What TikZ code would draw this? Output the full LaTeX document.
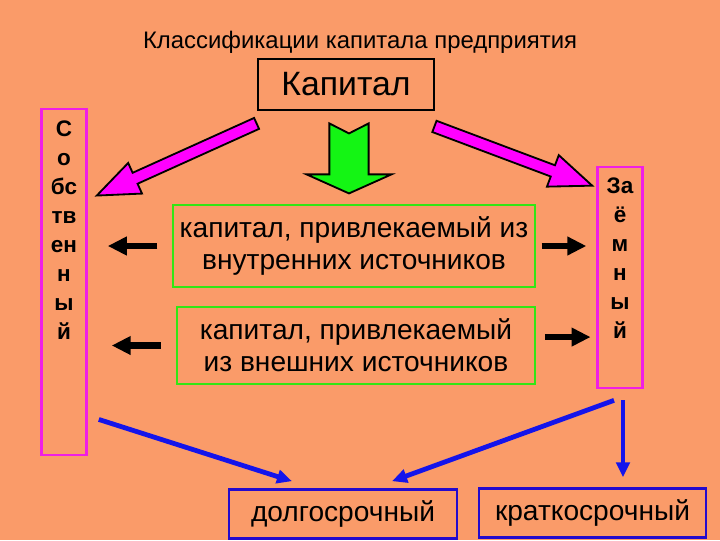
\documentclass[tikz,border=0pt]{standalone}
\usepackage{fontspec}
\setmainfont{Liberation Sans}
\usepackage{xcolor}
\usepackage{tikz}
\usetikzlibrary{arrows.meta, positioning, calc}
\definecolor{slidebg}{RGB}{250, 155, 105}
\definecolor{sidemag}{RGB}{240, 30, 230}
\definecolor{fatmag}{RGB}{255, 0, 255}
\definecolor{fatgreen}{RGB}{20, 245, 20}
\definecolor{srcgreen}{RGB}{50, 230, 20}
\definecolor{termblue}{RGB}{35, 10, 205}
\definecolor{arrowblue}{RGB}{20, 20, 235}

% fat outlined arrow: tail, tip, shaft half width, head half width, head length, notch, fill
\newcommand{\fatarrow}[7]{%
  \coordinate (fah) at ($(#2)!#5!(#1)$);
  \coordinate (fan) at ($(#1)!#6!(#2)$);
  \draw[fill=#7, line width=1.3pt, line join=miter]
    ($(#1)!#3!90:(#2)$) -- ($(fah)!#3!-90:(#1)$) -- ($(fah)!#4!-90:(#1)$) -- (#2)
    -- ($(fah)!#4!90:(#1)$) -- ($(fah)!#3!90:(#1)$) -- ($(#1)!#3!-90:(#2)$) -- (fan) -- cycle;
}

\begin{document}
\begin{tikzpicture}[
    x=0.025cm, y=-0.025cm,
    kapbox/.style={rectangle, draw=black, line width=2pt, minimum width=4.4cm, minimum height=1.275cm, font=\fontsize{24}{28}\selectfont},
    sidebox/.style={rectangle, draw=sidemag, line width=2pt, minimum width=1.12cm},
    vtext/.style={align=center, inner sep=0pt, font=\fontsize{16}{20.6}\selectfont\bfseries},
    srcbox/.style={rectangle, draw=srcgreen, line width=2pt, align=center, font=\fontsize{20}{22.8}\selectfont},
    termbox/.style={rectangle, draw=termblue, line width=2pt, minimum height=1.22cm, font=\fontsize{20}{24}\selectfont},
    blkarrow/.style={-{Triangle[length=13.5pt, width=12.6pt]}, line width=4.3pt, draw=black},
    bluearrow/.style={-{Triangle[length=10.7pt, width=9.5pt]}, line width=3.4pt, draw=arrowblue}
]
    \useasboundingbox (0,0) rectangle (720,540);
    \fill[slidebg] (0,0) rectangle (720,540);

    % Nodes
    \node[font=\fontsize{17}{20}\selectfont] (title) at (360,42) {Классификации капитала предприятия};
    \node[kapbox] (kap) at (346,84.5) {Капитал};

    \node[sidebox, minimum height=8.65cm] (own) at (64,282) {};
    \node[vtext, below=0.32cm of own.north] (ownlbl) {С\\о\\бс\\тв\\ен\\н\\ы\\й};
    \node[sidebox, minimum height=5.52cm] (zm) at (620,277.5) {};
    \node[vtext, below=0.29cm of zm.north] (zmlbl) {За\\ё\\м\\н\\ы\\й};

    \node[srcbox, minimum width=9.05cm, minimum height=2.05cm] (inner) at (354,246) {капитал, привлекаемый из\\внутренних источников};
    \node[srcbox, minimum width=8.95cm, minimum height=1.925cm] (outer) at (356,345.5) {капитал, привлекаемый\\из внешних источников};

    \node[termbox, minimum width=5.7cm] (lg) at (343,514) {долгосрочный};
    \node[termbox, minimum width=5.675cm] (st) at (592.5,513) {краткосрочный};

    \coordinate (mlt) at ($(kap.south west)+(0,12)$);
    \coordinate (mlp) at ($(own.north east)+(9,88)$);
    \coordinate (mrt) at ($(kap.south east)+(-1,15)$);
    \coordinate (mrp) at ($(zm.north west)+(-4,20)$);
    \coordinate (gt) at ($(kap.south)+(3,12)$);
    \coordinate (gp) at ($(kap.south)+(3,82)$);
    \coordinate (b1) at ($(own.south east)+(11,-37)$);
    \coordinate (b2) at ($(zm.south)+(-6,11)$);
    \coordinate (b3) at ($(zm.south)+(3,11)$);

    % Edges
    \fatarrow{mlt}{mlp}{0.15cm}{0.42cm}{1.05cm}{0cm}{fatmag}
    \fatarrow{mrt}{mrp}{0.15cm}{0.42cm}{1.05cm}{0cm}{fatmag}
    \fatarrow{gt}{gp}{0.49cm}{1.06cm}{0.475cm}{0.25cm}{fatgreen}

    \draw[blkarrow, shorten <=10pt, shorten >=14.2pt] (inner.west) -- (inner.west -| own.east);
    \draw[blkarrow, shorten <=10.7pt, shorten >=17pt] (outer.west) -- (outer.west -| own.east);
    \draw[blkarrow, shorten <=3.6pt, shorten >=7pt] (inner.east) -- (inner.east -| zm.west);
    \draw[blkarrow, shorten <=6pt, shorten >=4pt] ([yshift=6pt]outer.east) -- ([yshift=6pt]outer.east -| zm.west);

    \draw[bluearrow] (b1) -- ($(lg.north)+(-51,-7)$);
    \draw[bluearrow] (b2) -- ($(lg.north)+(49,-7)$);
    \draw[bluearrow, shorten >=7pt] (b3) -- (b3 |- st.north);
\end{tikzpicture}
\end{document}
